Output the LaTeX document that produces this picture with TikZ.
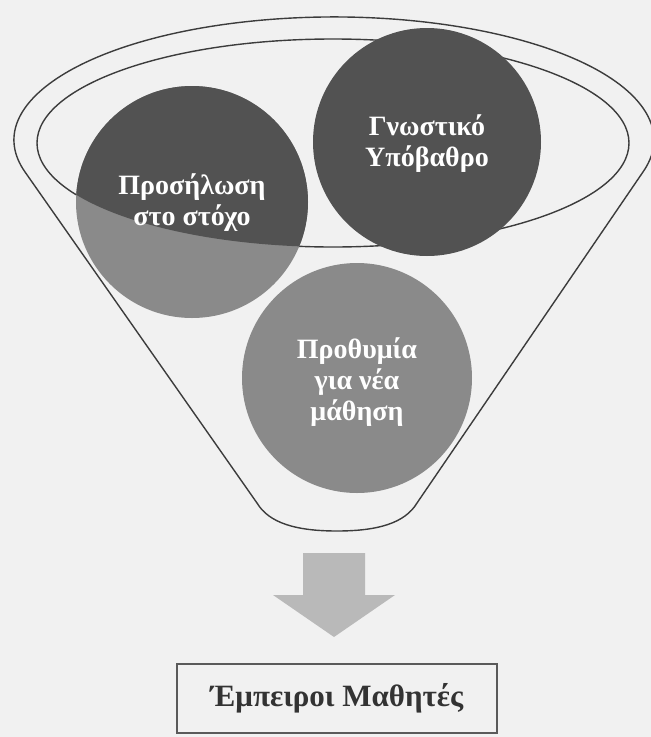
\documentclass[tikz,border=0pt]{standalone}
\usepackage{fontspec}
\setmainfont{Liberation Serif}
\definecolor{paper}{HTML}{F1F1F1}
\definecolor{rim}{HTML}{3C3C3C}
\definecolor{darkdisc}{HTML}{525252}
\definecolor{lightdisc}{HTML}{8A8A8A}
\definecolor{arrowgray}{HTML}{B9B9B9}
\definecolor{boxline}{HTML}{5A5A5A}
\tikzset{
  rimline/.style = {draw=rim, line width=1.4pt},
  disctext/.style = {text=white, align=center,
                     font=\bfseries\fontsize{28}{31}\selectfont},
  learnerbox/.style = {draw=boxline, line width=2.5pt, fill=paper,
                       minimum width=320pt, minimum height=69pt,
                       text=black!80, font=\bfseries\fontsize{31}{34}\selectfont}
         }

\begin{document}
\begin{tikzpicture}[x=1pt,y=-1pt]
    % Page area, pixel coordinates with y going down
    \useasboundingbox (0,0) rectangle (651,737);
    \fill[paper] (0,0) rectangle (651,737);
    % Funnel body: top rim arc, two sides and a rounded bottom
    \draw[rimline] (24.9,171.8) arc[start angle=165, end angle=375, x radius=320, y radius=123]
        -- (417,503) .. controls (405,523) and (378,531) .. (337,531)
        .. controls (296,531) and (269,523) .. (257,503) -- cycle;
    % Opening of the funnel
    \draw[rimline] (333,143) ellipse[x radius=296, y radius=104];
    % Discs
    \fill[lightdisc] (192,202) circle[radius=116];
    \fill[lightdisc] (357,378) circle[radius=115];
    \fill[darkdisc] (427,142) circle[radius=114];
    % Darker part of the left disc inside the opening
    \begin{scope}
    \clip (333,143) ellipse[x radius=296, y radius=104];
    \fill[darkdisc] (192,202) circle[radius=116];
    \end{scope}
    % Disc labels
    \node[disctext] (aim) at (192,203) {Προσήλωση\\στο στόχο};
    \node[disctext] (background) at (427,144) {Γνωστικό\\Υπόβαθρο};
    \node[disctext] (readiness) at (357,382) {Προθυμία\\για νέα\\μάθηση};
    % Block arrow below the funnel
    \fill[arrowgray] (303,553) -- (365,553) -- (365,595) -- (395,595)
        -- (334,637) -- (273,595) -- (303,595) -- cycle;
    % Result box
    \node[learnerbox] (learners) at (337,698.5) {Έμπειροι Μαθητές};
\end{tikzpicture}
\end{document}
